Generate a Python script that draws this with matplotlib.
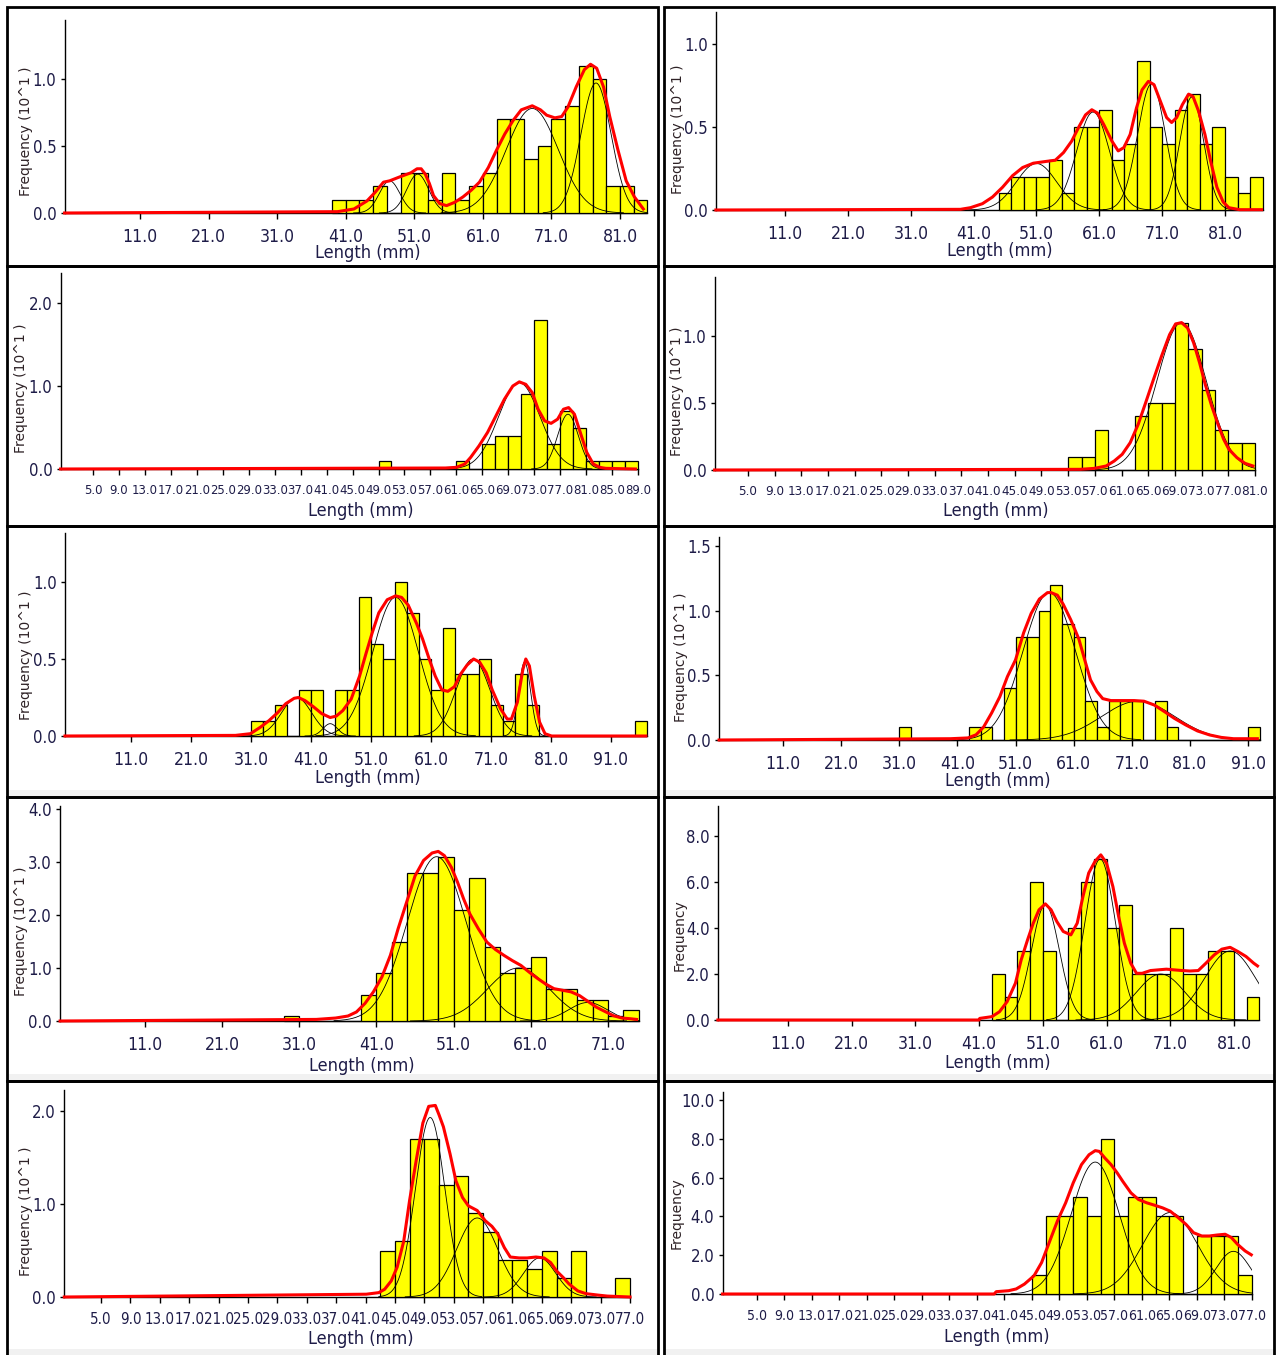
import numpy as np
import matplotlib
matplotlib.use("Agg")
import matplotlib.pyplot as plt
from matplotlib import font_manager
from matplotlib.font_manager import FontProperties
from matplotlib.patches import Rectangle

# ---- length-frequency samples (2 mm classes), one block per sample ----
# lower edge of the first class, then frequency per class
start_1 = 39
freq_1 = [0.1, 0.1, 0.1, 0.2, 0, 0.3, 0.3, 0.1, 0.3, 0.1, 0.2, 0.3, 0.7, 0.7,
          0.4, 0.5, 0.7, 0.8, 1.1, 1.0, 0.2, 0.2, 0.1]
start_2 = 45
freq_2 = [0.1, 0.2, 0.2, 0.2, 0.3, 0.1, 0.5, 0.5, 0.6, 0.3, 0.4, 0.9, 0.5, 0.4,
          0.6, 0.7, 0.4, 0.5, 0.2, 0.1, 0.2]
start_3 = 49
freq_3 = [0.1, 0, 0, 0, 0, 0, 0.1, 0, 0.3, 0.4, 0.4, 0.9, 1.8, 0.3, 0.7, 0.5,
          0.1, 0.1, 0.1, 0.1]
start_4 = 53
freq_4 = [0.1, 0.1, 0.3, 0, 0, 0.4, 0.5, 0.5, 1.1, 0.9, 0.6, 0.3, 0.2, 0.2]
start_5 = 31
freq_5 = [0.1, 0.1, 0.2, 0, 0.3, 0.3, 0, 0.3, 0.3, 0.9, 0.6, 0.5, 1.0, 0.8,
          0.5, 0.3, 0.7, 0.4, 0.4, 0.5, 0.2, 0.1, 0.4, 0.2,
          0, 0, 0, 0, 0, 0, 0, 0, 0.1]
start_6 = 31
freq_6 = [0.1, 0, 0, 0, 0, 0, 0.1, 0.1, 0, 0.4, 0.8, 0.8, 1.0, 1.2, 0.9, 0.8,
          0.3, 0.1, 0.3, 0.3, 0.3, 0, 0.3, 0.1, 0, 0, 0, 0, 0, 0, 0.1]
start_7 = 29
freq_7 = [0.1, 0, 0, 0, 0, 0.5, 0.9, 1.5, 2.8, 2.8, 3.1, 2.1, 2.7, 1.4, 0.9,
          1.0, 1.2, 0.6, 0.6, 0.4, 0.4, 0.1, 0.2]
start_8 = 43
freq_8 = [2, 1, 3, 6, 3, 0, 4, 6, 7, 4, 5, 2, 2, 2, 4, 2, 2, 3, 3, 0, 1]
start_9 = 43
freq_9 = [0.5, 0.6, 1.7, 1.7, 1.2, 1.3, 0.9, 0.7, 0.4, 0.4, 0.3, 0.5, 0.2,
          0.5, 0, 0, 0.2]
start_10 = 45
freq_10 = [1, 4, 4, 5, 4, 8, 4, 5, 5, 4, 4, 0, 3, 3, 3, 1]

# ---- fitted normal components: mean, s.d., peak height ----
mu_1, sd_1, pk_1 = [47.4, 51.5, 68.2, 77.5], [1.5, 1.6, 3.8, 2.2], [0.24, 0.29, 0.78, 0.97]
mu_2, sd_2, pk_2 = [51.0, 60.0, 69.3, 75.7], [3.2, 2.6, 2.2, 1.9], [0.28, 0.59, 0.76, 0.68]
mu_3, sd_3, pk_3 = [70.7, 78.2], [3.2, 1.6], [1.04, 0.66]
mu_4, sd_4, pk_4 = [70.0], [3.7], [1.10]
mu_5, sd_5, pk_5 = [38.6, 44.2, 55.1, 68.0, 76.6], [2.5, 1.2, 3.8, 2.8, 1.0], [0.25, 0.08, 0.90, 0.50, 0.48]
mu_6, sd_6, pk_6 = [56.8, 72.1], [4.5, 6.3], [1.14, 0.30]
mu_7, sd_7, pk_7 = [48.8, 59.4, 68.4], [3.8, 4.0, 2.5], [3.10, 1.00, 0.35]
mu_8, sd_8, pk_8 = [51.4, 60.0, 69.5, 80.4], [2.2, 2.4, 3.8, 4.0], [5.0, 7.0, 2.0, 3.0]
mu_9, sd_9, pk_9 = [49.8, 56.2, 64.7], [2.0, 2.8, 2.2], [1.93, 0.85, 0.42]
mu_10, sd_10, pk_10 = [54.2, 65.1, 74.3], [3.5, 4.0, 2.5], [6.8, 4.2, 2.2]

# ---- overall fitted curve (red) ----
rx_1 = [0, 39.8, 42.2, 44.1, 45.3, 46.5, 47.4, 48.9, 50.5, 51.4, 52.0, 52.6, 53.2, 53.8,
        54.7, 55.7, 56.9, 58.1, 59.3, 60.5, 61.8, 63.0, 64.2, 65.4, 66.6, 68.2, 69.4,
        70.3, 71.5, 72.5, 73.4, 74.6, 75.8, 76.7, 77.6, 78.6, 79.5, 80.7, 81.9, 83.1, 84.4]
ry_1 = [0, 0.01, 0.03, 0.09, 0.155, 0.23, 0.24, 0.27, 0.30, 0.33, 0.33, 0.29, 0.22, 0.13,
        0.07, 0.055, 0.08, 0.12, 0.17, 0.23, 0.34, 0.47, 0.59, 0.69, 0.77, 0.80, 0.77,
        0.73, 0.71, 0.72, 0.79, 0.94, 1.07, 1.11, 1.08, 0.94, 0.72, 0.47, 0.24, 0.12, 0.03]
rx_2 = [0, 38.9, 40.5, 42.4, 44.0, 45.6, 47.2, 48.8, 50.5, 52.4, 54.0, 55.3, 56.6, 57.8,
        58.8, 59.8, 60.7, 61.7, 63.0, 64.0, 64.9, 65.9, 66.9, 67.8, 68.8, 69.7, 70.7,
        71.7, 72.5, 73.3, 74.2, 75.2, 75.9, 76.8, 77.8, 78.7, 79.7, 80.7, 81.6, 83.3, 86.8]
ry_2 = [0, 0.004, 0.014, 0.038, 0.078, 0.137, 0.207, 0.256, 0.282, 0.292, 0.30, 0.346,
        0.415, 0.505, 0.573, 0.604, 0.584, 0.515, 0.415, 0.356, 0.376, 0.455, 0.614,
        0.724, 0.775, 0.755, 0.656, 0.557, 0.527, 0.557, 0.634, 0.698, 0.684, 0.594,
        0.455, 0.296, 0.137, 0.048, 0.014, 0.002, 0.002]
rx_3 = [0, 59.3, 61.0, 62.3, 63.2, 64.5, 65.8, 67.1, 68.4, 69.7, 70.7, 71.7, 72.7, 73.6,
        74.6, 75.6, 76.6, 77.5, 78.3, 79.2, 80.1, 81.1, 82.1, 83.1, 84.0, 88.6]
ry_3 = [0, 0.012, 0.02, 0.06, 0.14, 0.28, 0.44, 0.64, 0.84, 1.0, 1.05, 1.02, 0.92, 0.72,
        0.58, 0.55, 0.60, 0.72, 0.74, 0.66, 0.44, 0.20, 0.06, 0.02, 0.008, 0]
rx_4 = [0, 54.8, 56.9, 58.7, 59.9, 61.1, 62.3, 63.5, 64.6, 65.8, 67.0, 68.2, 69.1, 70.0,
        70.9, 71.8, 72.7, 73.6, 74.5, 75.4, 76.3, 77.1, 78.3, 79.5, 80.7]
ry_4 = [0, 0.005, 0.012, 0.03, 0.067, 0.117, 0.204, 0.341, 0.50, 0.677, 0.85, 1.01, 1.09,
        1.10, 1.06, 0.95, 0.80, 0.63, 0.48, 0.35, 0.23, 0.154, 0.092, 0.05, 0.03]
rx_5 = [0, 28.4, 30.9, 32.6, 34.0, 35.4, 36.8, 38.2, 38.9, 40.0, 41.4, 42.8, 44.2, 45.2,
        46.3, 47.7, 49.1, 50.2, 51.2, 52.3, 53.7, 55.1, 56.1, 57.2, 58.6, 59.6, 60.7,
        61.7, 62.8, 63.8, 64.9, 65.9, 67.0, 68.1, 69.1, 70.2, 71.2, 72.6, 73.7, 74.4,
        75.4, 76.3, 76.8, 77.4, 78.2, 79.1, 80.0, 81.1, 96.8]
ry_5 = [0, 0.004, 0.015, 0.058, 0.10, 0.15, 0.21, 0.245, 0.25, 0.23, 0.19, 0.145, 0.12,
        0.129, 0.165, 0.24, 0.39, 0.54, 0.67, 0.80, 0.885, 0.91, 0.90, 0.85, 0.73, 0.63,
        0.50, 0.39, 0.30, 0.29, 0.32, 0.40, 0.46, 0.50, 0.48, 0.41, 0.30, 0.176, 0.11,
        0.11, 0.22, 0.43, 0.50, 0.455, 0.26, 0.09, 0.015, 0, 0]
rx_6 = [0, 39.8, 42.8, 44.2, 45.5, 46.9, 48.3, 49.6, 51.0, 52.4, 53.7, 55.1, 56.5, 57.1,
        58.2, 59.2, 60.5, 61.9, 62.9, 63.9, 65.0, 66.0, 67.4, 69.4, 71.4, 73.1, 74.9,
        76.6, 78.3, 80.3, 82.3, 84.4, 86.4, 88.5, 92.6]
ry_6 = [0, 0.01, 0.016, 0.04, 0.10, 0.21, 0.335, 0.49, 0.62, 0.83, 0.98, 1.09, 1.14,
        1.14, 1.12, 1.05, 0.93, 0.78, 0.62, 0.465, 0.375, 0.32, 0.305, 0.305, 0.305,
        0.30, 0.27, 0.22, 0.168, 0.116, 0.07, 0.039, 0.02, 0.01, 0.01]
rx_7 = [0, 33.2, 35.7, 37.3, 38.4, 39.5, 40.6, 41.7, 42.8, 43.8, 44.9, 46.0, 47.1, 48.2,
        49.0, 49.8, 50.7, 51.5, 52.3, 53.1, 54.2, 55.3, 56.4, 57.5, 58.6, 59.7, 60.8,
        61.8, 62.9, 64.0, 65.1, 66.2, 67.3, 68.4, 69.5, 70.6, 71.7, 72.8, 73.8, 74.7]
ry_7 = [0, 0.03, 0.056, 0.094, 0.17, 0.33, 0.55, 0.83, 1.24, 1.74, 2.24, 2.74, 3.03,
        3.17, 3.2, 3.12, 2.90, 2.62, 2.30, 2.02, 1.74, 1.49, 1.35, 1.24, 1.14, 1.05,
        0.92, 0.81, 0.70, 0.61, 0.58, 0.55, 0.48, 0.37, 0.26, 0.18, 0.10, 0.056,
        0.044, 0.03]
rx_8 = [0, 41.0, 41.1, 43.0, 44.2, 45.4, 46.7, 47.6, 48.6, 49.5, 50.4, 51.4, 52.3, 53.2,
        54.2, 55.4, 56.4, 57.3, 58.2, 59.2, 60.1, 61.0, 62.0, 62.9, 63.8, 64.8, 65.7,
        66.6, 67.9, 69.1, 70.4, 71.6, 72.9, 74.1, 75.4, 76.6, 77.9, 79.1, 80.4, 81.6,
        82.9, 84.1, 84.7]
ry_8 = [0, 0, 0.07, 0.145, 0.36, 0.80, 1.60, 2.61, 3.48, 4.21, 4.79, 5.05, 4.79, 4.28,
        3.85, 3.70, 4.21, 5.37, 6.39, 6.90, 7.18, 6.82, 5.80, 4.50, 3.34, 2.47, 2.03,
        2.03, 2.15, 2.18, 2.21, 2.18, 2.15, 2.13, 2.15, 2.47, 2.83, 3.08, 3.16, 2.98,
        2.76, 2.47, 2.35]
rx_9 = [0, 41.1, 42.8, 43.6, 44.5, 45.3, 46.2, 47.0, 47.9, 48.8, 49.6, 50.5, 51.0, 51.6,
        52.5, 53.3, 54.2, 55.0, 56.2, 57.3, 58.2, 59.0, 59.9, 60.7, 61.9, 63.0, 64.2,
        65.3, 66.2, 67.0, 67.9, 68.7, 69.9, 71.0, 72.7, 73.9, 77.0]
ry_9 = [0, 0.03, 0.047, 0.083, 0.173, 0.32, 0.60, 1.04, 1.47, 1.87, 2.05, 2.06, 1.96,
        1.83, 1.54, 1.25, 1.07, 0.98, 0.93, 0.82, 0.76, 0.68, 0.53, 0.43, 0.42, 0.42,
        0.43, 0.42, 0.37, 0.28, 0.21, 0.14, 0.065, 0.036, 0.02, 0.01, 0]
rx_10 = [0, 39.5, 39.8, 41.6, 42.7, 43.9, 45.3, 46.4, 47.6, 48.7, 49.9, 51.0, 52.2, 53.3,
         54.2, 54.8, 55.6, 56.5, 57.4, 58.2, 59.4, 60.5, 61.7, 62.8, 64.0, 65.1, 66.3,
         67.4, 68.5, 69.7, 70.8, 71.9, 73.1, 74.0, 74.9, 76.0, 76.9]
ry_10 = [0, 0, 0.12, 0.17, 0.26, 0.51, 0.94, 1.62, 2.74, 3.76, 4.70, 5.73, 6.67, 7.18,
         7.39, 7.35, 7.01, 6.67, 6.24, 5.81, 5.21, 4.87, 4.70, 4.58, 4.44, 4.27, 3.93,
         3.59, 3.16, 2.99, 2.99, 3.04, 3.08, 2.91, 2.56, 2.22, 2.02]

# ---- axis ticks ----
xt_decade = [11, 21, 31, 41, 51, 61, 71, 81]
xt_decade91 = [11, 21, 31, 41, 51, 61, 71, 81, 91]
xt_decade71 = [11, 21, 31, 41, 51, 61, 71]
xt_four89 = list(range(5, 90, 4))
xt_four81 = list(range(5, 82, 4))
xt_four77 = list(range(5, 78, 4))
yt_half = [0.0, 0.5, 1.0]
yt_half15 = [0.0, 0.5, 1.0, 1.5]
yt_one2 = [0.0, 1.0, 2.0]
yt_one4 = [0.0, 1.0, 2.0, 3.0, 4.0]
yt_two8 = [0.0, 2.0, 4.0, 6.0, 8.0]
yt_two10 = [0.0, 2.0, 4.0, 6.0, 8.0, 10.0]

LAB10 = "Frequency (10^1 )"
LAB1 = "Frequency"

panels = [
    dict(start=start_1, freq=freq_1, mu=mu_1, sd=sd_1, pk=pk_1, rx=rx_1, ry=ry_1, xt=xt_decade, yt=yt_half, ylab=LAB10),
    dict(start=start_2, freq=freq_2, mu=mu_2, sd=sd_2, pk=pk_2, rx=rx_2, ry=ry_2, xt=xt_decade, yt=yt_half, ylab=LAB10),
    dict(start=start_3, freq=freq_3, mu=mu_3, sd=sd_3, pk=pk_3, rx=rx_3, ry=ry_3, xt=xt_four89, yt=yt_one2, ylab=LAB10),
    dict(start=start_4, freq=freq_4, mu=mu_4, sd=sd_4, pk=pk_4, rx=rx_4, ry=ry_4, xt=xt_four81, yt=yt_half, ylab=LAB10),
    dict(start=start_5, freq=freq_5, mu=mu_5, sd=sd_5, pk=pk_5, rx=rx_5, ry=ry_5, xt=xt_decade91, yt=yt_half, ylab=LAB10),
    dict(start=start_6, freq=freq_6, mu=mu_6, sd=sd_6, pk=pk_6, rx=rx_6, ry=ry_6, xt=xt_decade91, yt=yt_half15, ylab=LAB10),
    dict(start=start_7, freq=freq_7, mu=mu_7, sd=sd_7, pk=pk_7, rx=rx_7, ry=ry_7, xt=xt_decade71, yt=yt_one4, ylab=LAB10),
    dict(start=start_8, freq=freq_8, mu=mu_8, sd=sd_8, pk=pk_8, rx=rx_8, ry=ry_8, xt=xt_decade, yt=yt_two8, ylab=LAB1),
    dict(start=start_9, freq=freq_9, mu=mu_9, sd=sd_9, pk=pk_9, rx=rx_9, ry=ry_9, xt=xt_four77, yt=yt_one2, ylab=LAB10),
    dict(start=start_10, freq=freq_10, mu=mu_10, sd=sd_10, pk=pk_10, rx=rx_10, ry=ry_10, xt=xt_four77, yt=yt_two10, ylab=LAB1),
]

# pixel layout: x of length 0, px per mm, x max, y of freq 0, px per unit, y max,
# y-label (x, y) centre, x-label (x, y) centre, x tick font size
layout = [
    (64.6, 6.857, 85, 213, 134.0, 1.44, 26, 131, 368, 253, 10.5),
    (715.9, 6.286, 87, 210, 166.0, 1.19, 678, 129, 1000, 251, 10.5),
    (60.6, 6.488, 89, 469, 83.0, 2.36, 21, 388, 361, 511, 7.8),
    (714.6, 6.671, 81, 470, 134.0, 1.44, 677, 391, 996, 511, 8.0),
    (65.0, 6.000, 97, 736, 154.0, 1.32, 26, 655, 368, 778, 10.5),
    (719.1, 5.8125, 93, 740, 129.3, 1.57, 681, 657, 998, 781, 10.5),
    (60.1, 7.717, 75, 1021, 53.0, 4.06, 21, 931, 362, 1066, 10.5),
    (717.9, 6.371, 85, 1020, 23.0, 9.3, 680, 935, 998, 1063, 10.5),
    (64.3, 7.347, 77, 1297, 93.0, 2.23, 26, 1211, 361, 1339, 9.0),
    (722.6, 6.875, 77, 1294, 19.4, 10.4, 677, 1213, 997, 1337, 8.4),
]

# panel frames: left/right column x extents and row y extents
col_x = [(7, 658), (664, 1274)]
row_y = [(7, 266), (266, 526), (526, 797), (797, 1081), (1081, 1356)]
shaded_rows = [2, 3, 4]

W, H = 1280, 1355
TXT = "#1e1c48"
YLAB = "#2e2226"


def narrow_font_file():
    """Find an upright, regular-weight narrow/condensed sans face if one exists."""
    prefs = ["liberation sans narrow", "arial narrow", "dejavusanscondensed",
             "robotocondensed", "roboto condensed", "notosans-condensed",
             "noto sans condensed", "opensans-condensed", "open sans condensed"]
    found = {}
    for f in font_manager.fontManager.ttflist:
        key = (f.name + " " + f.fname.split("/")[-1]).lower()
        if any(w in key for w in ("bold", "italic", "oblique", "light", "thin",
                                  "medium", "black", "semi", "extra", "mono")):
            continue
        for i, pref in enumerate(prefs):
            if pref in key:
                found.setdefault(i, f.fname)
    return found[min(found)] if found else None


_nf = narrow_font_file()


def tick_font(size):
    if _nf:
        return FontProperties(fname=_nf, size=size * 1.2)
    return FontProperties(family="Liberation Sans", size=size)


XLAB_FP = FontProperties(fname=_nf, size=13) if _nf else FontProperties(family="Liberation Sans", size=11)
YLAB_FP = FontProperties(family="DejaVu Sans", size=10)
YTICK_FP = tick_font(10)

fig = plt.figure(figsize=(W / 100, H / 100), dpi=100)
fig.patch.set_facecolor("white")

# faint grey strip along the foot of the lower panels
for r in shaded_rows:
    for (xa, xb) in col_x:
        yb = row_y[r][1]
        fig.add_artist(Rectangle((xa / W, 1 - yb / H), (xb - xa) / W, 7 / H,
                                 transform=fig.transFigure, facecolor="#f1f1f1",
                                 edgecolor="none", zorder=0))

for p, lay in zip(panels, layout):
    x0, ppu, xmax, y0, ppy, ymax, ylx, yly, xlx, xly, xts = lay
    ax = fig.add_axes([x0 / W, 1 - y0 / H, xmax * ppu / W, ymax * ppy / H])
    ax.set_xlim(0, xmax)
    ax.set_ylim(0, ymax)
    ax.patch.set_alpha(0)

    edges = p["start"] + 2 * np.arange(len(p["freq"]))
    ax.bar(edges, p["freq"], width=2, align="edge", color="#ffff00",
           edgecolor="black", linewidth=0.9, zorder=2, clip_on=False)

    for mu, sd, pk in zip(p["mu"], p["sd"], p["pk"]):
        xs = np.linspace(max(0, mu - 3.5 * sd), min(xmax, mu + 3.5 * sd), 200)
        ax.plot(xs, pk * np.exp(-0.5 * ((xs - mu) / sd) ** 2), color="black",
                lw=0.6, zorder=3)

    ax.plot(p["rx"], p["ry"], color="#ff0000", lw=2.2, zorder=4,
            solid_joinstyle="round", clip_on=False)

    for side in ("top", "right"):
        ax.spines[side].set_visible(False)
    for side in ("left", "bottom"):
        ax.spines[side].set_linewidth(1.0)
        ax.spines[side].set_color("black")
        ax.spines[side].set_zorder(1)

    ax.set_xticks(p["xt"])
    ax.set_xticklabels([f"{v:.1f}" for v in p["xt"]], fontproperties=tick_font(xts),
                       color=TXT)
    ax.set_yticks(p["yt"])
    ax.set_yticklabels([f"{v:.1f}" for v in p["yt"]], fontproperties=YTICK_FP,
                       color=TXT)
    ax.tick_params(axis="x", direction="out", length=4, width=1, pad=7)
    ax.tick_params(axis="y", direction="out", length=3, width=1, pad=3)

    fig.text(ylx / W, 1 - yly / H, p["ylab"], rotation=90, ha="center",
             va="center", fontproperties=YLAB_FP, color=YLAB)
    fig.text(xlx / W, 1 - xly / H, "Length (mm)", ha="center", va="center",
             fontproperties=XLAB_FP, color=TXT)

for (xa, xb) in col_x:
    for (ya, yb) in row_y:
        fig.add_artist(Rectangle((xa / W, 1 - yb / H), (xb - xa) / W, (yb - ya) / H,
                                 transform=fig.transFigure, fill=False,
                                 edgecolor="black", linewidth=2.0))

fig.savefig("out.png", dpi=100)
